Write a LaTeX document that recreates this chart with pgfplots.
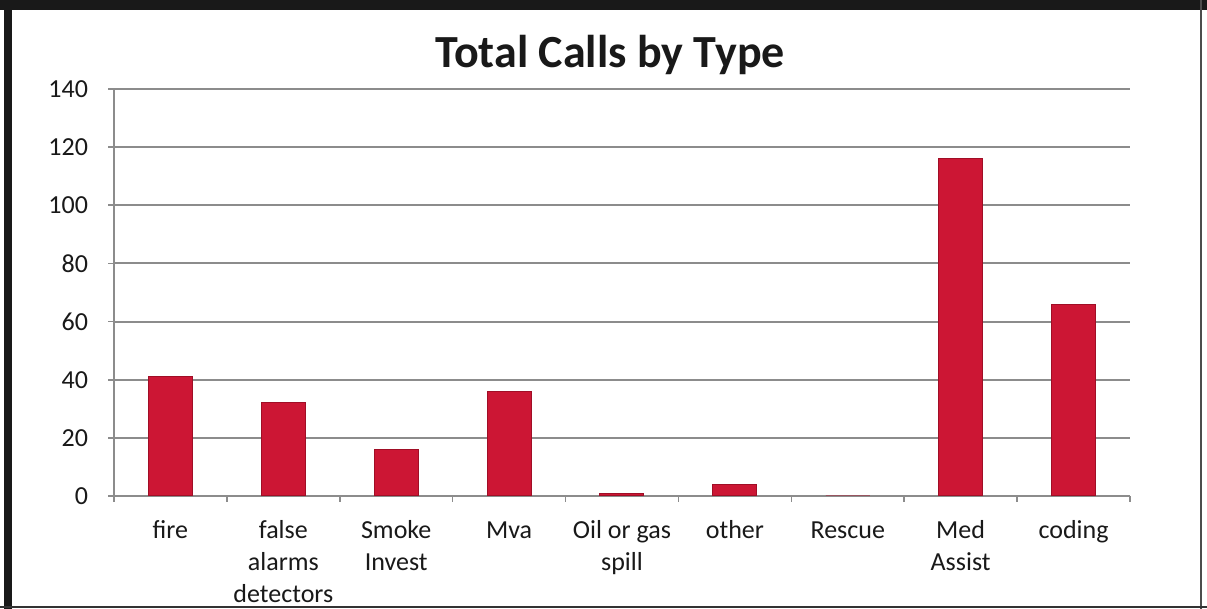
\documentclass[border=0pt]{standalone}
\usepackage{fontspec}
\setmainfont{Carlito}
\usepackage{pgfplots}
\pgfplotsset{compat=1.18}
\definecolor{barred}{RGB}{204,22,52}
\definecolor{baredge}{RGB}{160,14,38}
\definecolor{gridgray}{RGB}{140,140,140}
\definecolor{txt}{RGB}{25,25,25}
\begin{document}
\begin{tikzpicture}
\useasboundingbox (0,0) rectangle (603.5pt,304.5pt);
\fill[white] (0,0) rectangle (603.5pt,304.5pt);
\begin{axis}[
  at={(57pt,56.5pt)}, anchor=south west,
  scale only axis, width=508pt, height=203.5pt,
  xmin=-0.5, xmax=8.5, ymin=0, ymax=140,
  ytick={0,20,...,140},
  xtick={0,...,8},
  xticklabels={\strut fire,{\strut false\\alarms\\detectors},{\strut Smoke\\Invest},\strut Mva,{\strut Oil or gas\\spill},\strut other,\strut Rescue,{\strut Med\\Assist},\strut coding},
  minor xtick={-0.5,0.5,...,8.5},
  major x tick style={draw=none},
  minor x tick style={gridgray, line width=0.8pt},
  minor tick length=3pt,
  major tick length=3pt,
  tick align=outside,
  ytick style={gridgray, line width=0.8pt},
  ymajorgrids, grid style={gridgray, line width=1pt},
  axis x line*=bottom, axis y line*=left,
  axis line style={gridgray, line width=1pt},
  x axis line style={-}, y axis line style={-},
  /pgf/number format/assume math mode=true,
  ticklabel style={font=\fontsize{13}{16}\selectfont, text=txt},
  xticklabel style={align=center, anchor=north, yshift=-3.5pt},
  yticklabel style={xshift=-6.5pt},
  ybar, bar width=22pt,
  clip=false,
]
\addplot[fill=barred, draw=baredge, line width=0.5pt] coordinates {
(0,41) (1,32) (2,16) (3,36) (4,1) (5,4) (6,0) (7,116) (8,66)};
\end{axis}
\node[anchor=base, font=\fontsize{23}{26}\selectfont\bfseries, text=txt] at (305pt,270.5pt) {Total Calls by Type};
\fill[black!90] (0,299.5pt) rectangle (603.5pt,304.5pt);
\fill[black!90] (2pt,0) rectangle (6pt,304.5pt);
\draw[black!70, line width=0.8pt] (600.5pt,0) -- (600.5pt,304.5pt);
\draw[black!80, line width=1pt] (0,1pt) -- (603.5pt,1pt);
\end{tikzpicture}
\end{document}
